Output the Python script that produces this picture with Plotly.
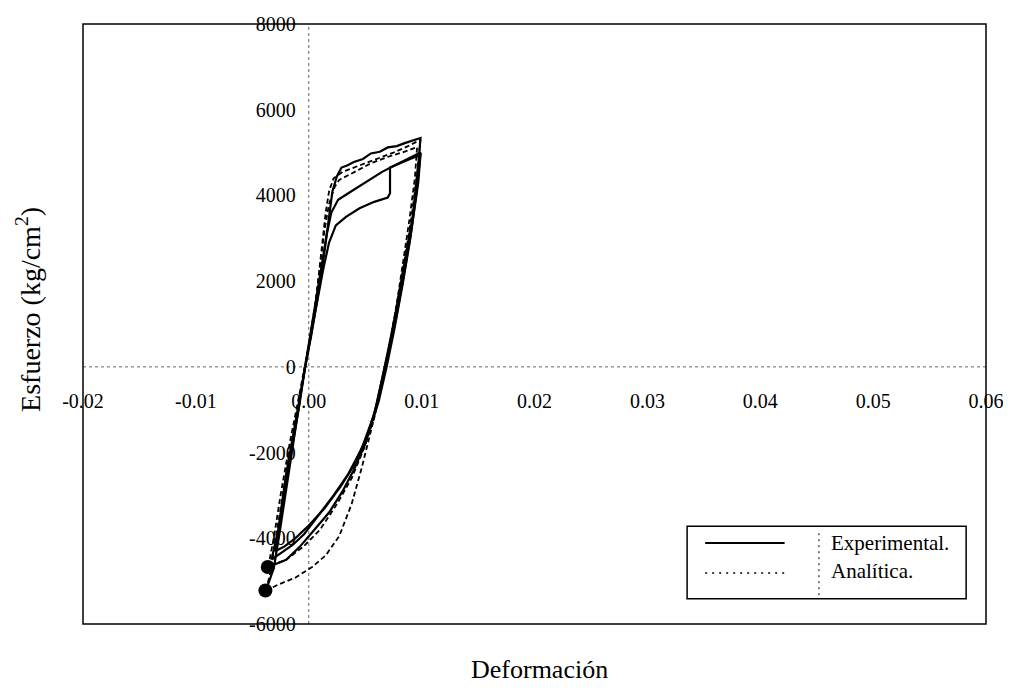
import plotly.graph_objects as go

FONT = "Liberation Serif, Times New Roman, serif"

# ticks
x_ticks = [-0.02, -0.01, 0.0, 0.01, 0.02, 0.03, 0.04, 0.05, 0.06]
x_tick_text = ["-0.02", "-0.01", "0.00", "0.01", "0.02", "0.03", "0.04", "0.05", "0.06"]
y_ticks = [8000, 6000, 4000, 2000, 0, -2000, -4000, -6000]
y_tick_text = ["8000", "6000", "4000", "2000", "0", "-2000", "-4000", "-6000"]

# experimental cycles (strain, stress kg/cm2)
exp1_strain = [-0.0038, -0.0031, -0.0026, -0.0019, -0.0011, -0.0004, 0.0002, 0.0009, 0.0014, 0.0018,
               0.0021, 0.0025, 0.0029, 0.0034, 0.0040, 0.0048, 0.0055, 0.0063, 0.0070, 0.0078, 0.0085, 0.0099,
               0.0097, 0.0092, 0.0085, 0.0078, 0.0072, 0.0067, 0.0060, 0.0050, 0.0040, 0.0030, 0.0018,
               0.0005, -0.0008, -0.0020, -0.0030, -0.0036]
exp1_stress = [-5220, -4700, -3900, -2700, -1400, -100, 700, 1800, 2700, 3500,
               4100, 4450, 4650, 4700, 4780, 4850, 4980, 5020, 5120, 5150, 5220, 5340,
               4700, 3500, 2400, 1400, 600, 0, -900, -1800, -2400, -2900, -3400,
               -3800, -4200, -4500, -4600, -4670]

exp2_strain = [-0.0033, -0.0027, -0.0020, -0.0012, -0.0005, 0.0001, 0.0008, 0.0013, 0.0018, 0.0024,
               0.0033, 0.0045, 0.0058, 0.0070, 0.0072, 0.0072, 0.0085, 0.0099,
               0.0097, 0.0091, 0.0084, 0.0077, 0.0070, 0.0065, 0.0058, 0.0047, 0.0035, 0.0022,
               0.0008, -0.0004, -0.0014, -0.0025, -0.0033]
exp2_stress = [-4500, -3800, -2500, -1300, -200, 600, 1600, 2300, 2900, 3300,
               3500, 3700, 3850, 3950, 4050, 4650, 4800, 4950,
               4300, 3200, 2100, 1100, 300, -300, -1100, -1900, -2500, -3000,
               -3500, -3900, -4150, -4350, -4500]

exp3_strain = [-0.0030, -0.0024, -0.0017, -0.0009, -0.0002, 0.0005, 0.0011, 0.0016, 0.0020, 0.0026,
               0.0035, 0.0050, 0.0065, 0.0080, 0.0099,
               0.0096, 0.0090, 0.0083, 0.0076, 0.0069, 0.0062, 0.0052, 0.0040, 0.0028, 0.0014,
               0.0000, -0.0012, -0.0022, -0.0030]
exp3_stress = [-4300, -3400, -2200, -1000, 200, 1300, 2300, 3100, 3600, 3900,
               4050, 4300, 4550, 4750, 5000,
               4200, 3000, 1900, 900, 0, -800, -1600, -2300, -2800, -3300,
               -3700, -4000, -4200, -4300]

# analytical cycles
ana1_strain = [-0.0038, -0.0034, -0.0028, -0.0020, -0.0011, -0.0004, 0.0002, 0.0007, 0.0011, 0.0015,
               0.0018, 0.0022, 0.0030, 0.0045, 0.0060, 0.0075, 0.0088, 0.0099,
               0.0096, 0.0091, 0.0085, 0.0079, 0.0073, 0.0068, 0.0062, 0.0056, 0.0047, 0.0038,
               0.0027, 0.0015, 0.0003, -0.0012, -0.0027, -0.0038]
ana1_stress = [-5220, -4800, -3800, -2500, -1200, -100, 800, 1700, 2700, 3600,
               4100, 4400, 4550, 4700, 4850, 5000, 5150, 5300,
               4500, 3500, 2500, 1600, 700, 0, -700, -1400, -2350, -3200,
               -3950, -4400, -4670, -4920, -5080, -5220]

ana2_strain = [-0.0036, -0.0031, -0.0025, -0.0017, -0.0008, 0.0000, 0.0006, 0.0010, 0.0014, 0.0018,
               0.0023, 0.0027, 0.0040, 0.0055, 0.0070, 0.0085, 0.0096,
               0.0094, 0.0089, 0.0083, 0.0077, 0.0071, 0.0065, 0.0058, 0.0049, 0.0038, 0.0025,
               0.0010, -0.0005, -0.0020, -0.0036]
ana2_stress = [-4670, -4000, -3000, -1800, -600, 500, 1500, 2400, 3200, 3800,
               4200, 4360, 4550, 4750, 4900, 5020, 5130,
               4400, 3400, 2300, 1300, 400, -400, -1200, -1900, -2600, -3200,
               -3800, -4200, -4500, -4670]

# starting points (big dots)
start_strain = [-0.00363, -0.00384]
start_stress = [-4670, -5220]

legend_labels = ["Experimental.", "Analítica."]

fig = go.Figure()

for xs, ys in [(exp1_strain, exp1_stress), (exp2_strain, exp2_stress), (exp3_strain, exp3_stress)]:
    fig.add_trace(go.Scatter(x=xs, y=ys, mode="lines", name=legend_labels[0],
                             line=dict(color="black", width=2.2), showlegend=False))

for xs, ys in [(ana1_strain, ana1_stress), (ana2_strain, ana2_stress)]:
    fig.add_trace(go.Scatter(x=xs, y=ys, mode="lines", name=legend_labels[1],
                             line=dict(color="black", width=1.8, dash="5px,3px"), showlegend=False))

fig.add_trace(go.Scatter(x=start_strain, y=start_stress, mode="markers",
                         marker=dict(color="black", size=14), showlegend=False))

# dotted reference lines through the origin
fig.add_shape(type="line", xref="x", yref="y", x0=-0.02, x1=0.06, y0=0, y1=0,
              line=dict(color="#666", width=1, dash="dot"), layer="below")
fig.add_shape(type="line", xref="x", yref="y", x0=0, x1=0, y0=-6000, y1=8000,
              line=dict(color="#666", width=1, dash="dot"), layer="below")
# frame
fig.add_shape(type="rect", xref="paper", yref="paper", x0=0, x1=1, y0=0, y1=1,
              line=dict(color="black", width=1.5))

# legend box drawn by hand (sample | separator | label)
fig.add_shape(type="rect", xref="paper", yref="paper", x0=0.669, x1=0.978, y0=0.042, y1=0.163,
              line=dict(color="black", width=1.5), fillcolor="white")
fig.add_shape(type="line", xref="paper", yref="paper", x0=0.689, x1=0.777, y0=0.135, y1=0.135,
              line=dict(color="black", width=1.8))
fig.add_shape(type="line", xref="paper", yref="paper", x0=0.689, x1=0.777, y0=0.085, y1=0.085,
              line=dict(color="black", width=1.3, dash="2px,5px"))
fig.add_shape(type="line", xref="paper", yref="paper", x0=0.815, x1=0.815, y0=0.048, y1=0.158,
              line=dict(color="black", width=1, dash="2px,4px"))
for label, ly in zip(legend_labels, [0.135, 0.088]):
    fig.add_annotation(text=label, xref="paper", yref="paper", x=0.826, y=ly,
                       xanchor="left", yanchor="middle", showarrow=False,
                       font=dict(family=FONT, size=21, color="black"))

fig.add_annotation(text="Deformación", xref="paper", yref="paper", x=0.506, y=-0.076,
                   xanchor="center", yanchor="middle", showarrow=False,
                   font=dict(family=FONT, size=26, color="black"))
fig.add_annotation(text="Esfuerzo (kg/cm<sup>2</sup>)", xref="paper", yref="paper", x=-0.061, y=0.525,
                   xanchor="center", yanchor="middle", textangle=-90, showarrow=False,
                   font=dict(family=FONT, size=28, color="black"))

fig.update_layout(
    width=995, height=675,
    margin=dict(l=75, r=17, t=16, b=59),
    paper_bgcolor="white", plot_bgcolor="white",
    font=dict(family=FONT, size=20, color="black"),
    showlegend=False,
)
fig.update_xaxes(range=[-0.02, 0.06], tickvals=x_ticks, ticktext=x_tick_text,
                 anchor="free", position=6000 / 14000, showgrid=False, zeroline=False,
                 showline=False, ticks="outside", ticklen=16, tickcolor="rgba(0,0,0,0)",
                 ticklabeloverflow="allow", automargin=False)
fig.update_yaxes(range=[-6000, 8000], tickvals=y_ticks, ticktext=y_tick_text,
                 anchor="free", position=0.25, showgrid=False, zeroline=False,
                 showline=False, ticks="outside", ticklen=9, tickcolor="rgba(0,0,0,0)",
                 ticklabeloverflow="allow", automargin=False)

fig.write_html("out.html")
